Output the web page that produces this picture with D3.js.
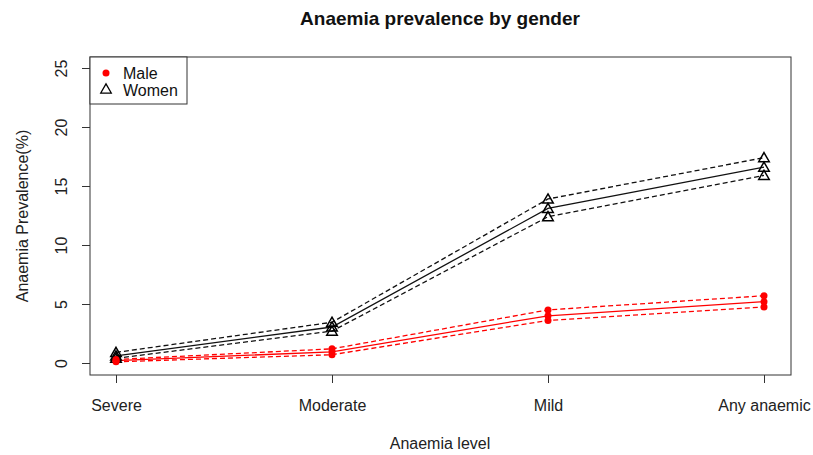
<!DOCTYPE html>
<html><head><meta charset="utf-8">
<script src="https://cdn.jsdelivr.net/npm/d3@7"></script>
<style>body{margin:0;background:#fff}svg{display:block}text{font-family:"Liberation Sans",Arial,sans-serif}</style>
</head><body><svg id="c" width="813" height="455"></svg>
<script>
const categories = ["Severe", "Moderate", "Mild", "Any anaemic"];
const maleMid   = [0.2, 0.95, 4.0, 5.2];
const maleLow   = [0.1, 0.7, 3.6, 4.75];
const maleHigh  = [0.3, 1.2, 4.5, 5.7];
const womenMid  = [0.6, 3.05, 13.1, 16.6];
const womenLow  = [0.4, 2.7, 12.4, 15.9];
const womenHigh = [0.9, 3.45, 13.9, 17.4];
const yTicks = [0, 5, 10, 15, 20, 25];

const svg = d3.select("#c");
const L = 90, R = 791, T = 57, B = 375;
const x = d3.scalePoint().domain(categories).range([116, 764]);
const y = d3.scaleLinear().domain([0, 25]).range([363, 68]);

// title
svg.append("text").attr("x", 440).attr("y", 25).attr("text-anchor", "middle")
  .style("font-weight", "bold").style("font-size", "19px").attr("fill", "#111").text("Anaemia prevalence by gender");

// box
svg.append("rect").attr("x", L).attr("y", T).attr("width", R - L).attr("height", B - T)
  .attr("fill", "none").attr("stroke", "#333").attr("stroke-width", 1);

// y axis
const ya = svg.append("g").attr("transform", `translate(${L},0)`)
  .call(d3.axisLeft(y).tickValues(yTicks).tickSize(8).tickFormat(d3.format("d")));
ya.select(".domain").remove();
ya.selectAll("line").attr("stroke", "#333");
ya.selectAll("text").attr("font-size", "16px").attr("fill", "#222")
  .attr("x", -29).attr("dy", "0.35em").attr("text-anchor", "middle")
  .attr("transform", "rotate(-90, -29, 0)");

// x axis
const xa = svg.append("g").attr("transform", `translate(0,${B})`)
  .call(d3.axisBottom(x).tickSize(8));
xa.select(".domain").remove();
xa.selectAll("line").attr("stroke", "#333");
xa.selectAll("text").attr("font-size", "16px").attr("fill", "#222").attr("y", 36).attr("dy", "0");

// axis titles
svg.append("text").attr("x", 440).attr("y", 449).attr("text-anchor", "middle")
  .style("font-size", "16px").attr("fill", "#222").text("Anaemia level");
svg.append("text").attr("transform", "translate(28,216) rotate(-90)").attr("text-anchor", "middle")
  .style("font-size", "16px").attr("fill", "#222").text("Anaemia Prevalence(%)");

const line = d3.line().x((d, i) => x(categories[i])).y(d => y(d));
function drawSeries(arr, color, dashed) {
  svg.append("path").datum(arr).attr("d", line).attr("fill", "none")
    .attr("stroke", color).attr("stroke-width", 1.3)
    .attr("stroke-dasharray", dashed ? "5,3" : null);
}
drawSeries(womenMid, "#111", false);
drawSeries(womenLow, "#111", true);
drawSeries(womenHigh, "#111", true);
drawSeries(maleMid, "#ff0000", false);
drawSeries(maleLow, "#ff0000", true);
drawSeries(maleHigh, "#ff0000", true);

const tri = d3.symbol().type(d3.symbolTriangle).size(48);
[womenMid, womenLow, womenHigh].forEach(arr => {
  svg.append("g").selectAll("path").data(arr).join("path")
    .attr("d", tri).attr("transform", (d, i) => `translate(${x(categories[i])},${y(d) + 1})`)
    .attr("fill", "none").attr("stroke", "#000").attr("stroke-width", 1.5);
});
[maleMid, maleLow, maleHigh].forEach(arr => {
  svg.append("g").selectAll("circle").data(arr).join("circle")
    .attr("cx", (d, i) => x(categories[i])).attr("cy", d => y(d)).attr("r", 3.5)
    .attr("fill", "#ff0000");
});

// legend
const lg = svg.append("g");
lg.append("rect").attr("x", L).attr("y", T).attr("width", 97).attr("height", 47)
  .attr("fill", "#fff").attr("stroke", "#333").attr("stroke-width", 1);
lg.append("circle").attr("cx", 106).attr("cy", 73).attr("r", 3.5).attr("fill", "#ff0000");
lg.append("path").attr("d", tri).attr("transform", "translate(106,90)")
  .attr("fill", "none").attr("stroke", "#000").attr("stroke-width", 1.3);
lg.append("text").attr("x", 123).attr("y", 79).style("font-size", "16px").attr("fill", "#111").text("Male");
lg.append("text").attr("x", 123).attr("y", 96).style("font-size", "16px").attr("fill", "#111").text("Women");
</script></body></html>
